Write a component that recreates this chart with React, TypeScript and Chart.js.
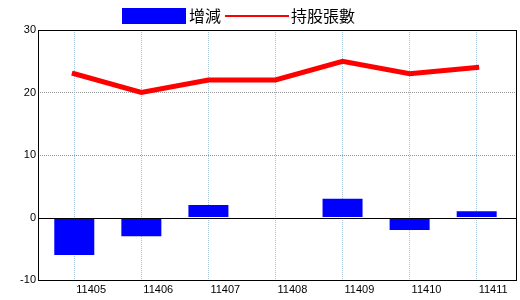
import React, { useEffect, useRef } from "react";
import { Chart, registerables } from "chart.js";

Chart.register(...registerables);

const categories = ["11405", "11406", "11407", "11408", "11409", "11410", "11411"];
const changeValues = [-6, -3, 2, 0, 3, -2, 1];
const holdingValues = [23, 20, 22, 22, 25, 23, 24];
const yTicks = [-10, 0, 10, 20, 30];
const barLabel = "增減";
const lineLabel = "持股張數";

const legendPlugin = {
  id: "customLegend",
  afterDraw(chart: any) {
    const ctx = chart.ctx as CanvasRenderingContext2D;
    ctx.save();
    ctx.font = '16px "Noto Sans CJK TC", "Noto Sans CJK SC", sans-serif';
    ctx.textBaseline = "middle";
    let x = 122;
    const cy = 16;
    ctx.fillStyle = "#0000ff";
    ctx.fillRect(x, 8, 64, 16);
    x += 67;
    ctx.fillStyle = "#000";
    ctx.fillText(barLabel, x, cy);
    x += ctx.measureText(barLabel).width + 4;
    ctx.strokeStyle = "#ff0000";
    ctx.lineWidth = 2;
    ctx.beginPath();
    ctx.moveTo(x, cy);
    ctx.lineTo(x + 64, cy);
    ctx.stroke();
    x += 66;
    ctx.fillText(lineLabel, x, cy);
    ctx.restore();
  },
};

const framePlugin = {
  id: "frame",
  afterDatasetsDraw(chart: any) {
    const ctx = chart.ctx as CanvasRenderingContext2D;
    const a = chart.chartArea;
    const y0 = Math.round(chart.scales.y.getPixelForValue(0)) + 0.5;
    ctx.save();
    ctx.strokeStyle = "#000";
    ctx.lineWidth = 1;
    ctx.beginPath();
    ctx.moveTo(a.left, y0);
    ctx.lineTo(a.right, y0);
    ctx.stroke();
    ctx.strokeRect(Math.round(a.left) + 0.5, Math.round(a.top) + 0.5, Math.round(a.right - a.left) - 1, Math.round(a.bottom - a.top));
    ctx.restore();
  },
};

export default function App() {
  const ref = useRef<HTMLCanvasElement | null>(null);
  useEffect(() => {
    if (!ref.current) return;
    const chart = new Chart(ref.current, {
      data: {
        datasets: [
          {
            type: "line",
            label: lineLabel,
            data: holdingValues.map((v, i) => ({ x: i, y: v })),
            borderColor: "#ff0000",
            backgroundColor: "#ff0000",
            borderWidth: 5,
            borderCapStyle: "square",
            pointRadius: 0,
            tension: 0,
            order: 0,
          },
          {
            type: "bar",
            label: barLabel,
            data: changeValues.map((v, i) => ({ x: i, y: v })),
            backgroundColor: "#0000ff",
            borderWidth: 0,
            inflateAmount: 0,
            barThickness: 40,
            order: 1,
          },
        ],
      } as any,
      options: {
        animation: false,
        responsive: false,
        layout: { padding: { top: 30, right: 3, left: 0, bottom: 0 } },
        plugins: { legend: { display: false }, tooltip: { enabled: false } },
        scales: {
          x: {
            type: "linear",
            offset: false,
            min: -0.541,
            max: 6.601,
            afterBuildTicks: (scale: any) => {
              scale.ticks = categories.map((_, i) => ({ value: i }));
            },
            afterFit: (scale: any) => {
              scale.height = 20;
            },
            ticks: {
              autoSkip: false,
              maxRotation: 0,
              minRotation: 0,
              align: "start",
              labelOffset: 2,
              padding: 3,
              color: "#000",
              font: { family: '"Liberation Sans", Arial, sans-serif', size: 11 },
              callback: (v: any) => categories[v] ?? "",
            },
            grid: { color: "rgb(165,195,215)", lineWidth: 1, drawTicks: false, offset: false },
            border: { display: false, dash: [1, 1] },
          },
          y: {
            min: -10,
            max: 30,
            afterBuildTicks: (scale: any) => {
              scale.ticks = yTicks.map((v) => ({ value: v }));
            },
            afterFit: (scale: any) => {
              scale.width = 38;
            },
            ticks: {
              padding: 2,
              color: "#000",
              font: { family: '"Liberation Sans", Arial, sans-serif', size: 11 },
            },
            grid: {
              color: (ctx: any) => (ctx.tick && (ctx.tick.value === 10 || ctx.tick.value === 20) ? "#999999" : "rgba(0,0,0,0)"),
              lineWidth: 1,
              drawTicks: false,
            },
            border: { display: false, dash: [1, 1] },
          },
        },
      } as any,
      plugins: [legendPlugin, framePlugin],
    });
    return () => chart.destroy();
  }, []);
  return (
    <div style={{ position: "absolute", left: 0, top: 0, width: 520, height: 300, background: "#fff" }}>
      <canvas ref={ref} width={520} height={300} />
    </div>
  );
}
